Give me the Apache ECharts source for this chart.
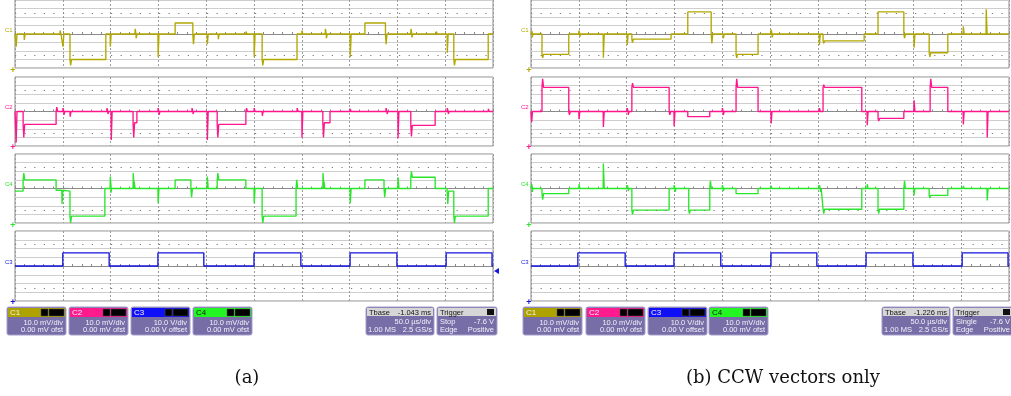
<!DOCTYPE html>
<html>
<head>
<meta charset="utf-8">
<script src="https://cdn.jsdelivr.net/npm/echarts@6/dist/echarts.min.js"></script>
<style>
html, body { margin: 0; padding: 0; background: #fff; }
#chart { width: 1011px; height: 396px; }
</style>
</head>
<body>
<div id="chart"></div>
<script>
// time in divisions (0..10), amplitude in divisions (-4..4) from trace centre
// steps: [time, new level], spikes: [time, offset from current level]

// panel (a)
const aC1Steps = [[0, 0], [1.15, -3.0], [1.9, 0], [3.35, 1.3], [3.72, 0], [5.17, -3.0], [5.9, 0], [7.32, 1.3], [7.75, 0], [9.18, -3.0], [9.9, 0]]
const aC1Spikes = [[0.02, -1.5], [0.19, -0.7], [0.94, 0.4], [1.0, -1.5], [1.16, -0.7], [1.99, -1.5], [2.51, 0.6], [2.53, -0.5], [2.99, -2.7], [3.73, -1.2], [4.02, -1.2], [4.25, -0.6], [4.83, 0.3], [5.0, -2.7], [5.18, -0.7], [6.0, 0.4], [6.49, 0.6], [6.51, -0.5], [7.01, -2.7], [7.76, -1.2], [8.28, 0.6], [8.3, -0.4], [8.81, 0.3], [9.04, -2.2], [9.19, -0.7]]

const aC2Steps = [[0, 0], [0.17, -1.5], [0.86, 0], [2.47, -1.3], [2.55, 0], [4.23, -1.5], [4.83, 0], [6.44, -1.3], [6.59, 0], [8.28, -1.6], [8.79, 0]]
const aC2Spikes = [[0.02, -3.6], [0.18, -1.5], [0.87, 0.5], [1.0, 0.4], [1.02, -0.4], [1.15, -0.6], [1.92, 0.4], [1.94, -0.3], [2.01, -3.3], [2.48, -1.7], [2.99, 0.4], [3.01, -0.4], [3.7, 0.4], [3.72, -0.3], [4.02, -3.3], [4.24, -1.5], [4.84, 0.4], [5.0, 0.4], [5.17, -0.5], [5.9, 0.4], [6.0, -3.0], [6.45, -1.7], [7.01, 0.3], [7.76, 0.4], [7.78, -0.3], [8.01, -3.1], [8.29, -1.3], [9.04, 0.4], [9.06, -0.3], [9.9, 0.3]]

const aC4Steps = [[0, -0.3], [0.17, 1.0], [0.86, -0.2], [1.0, -0.3], [1.15, -3.2], [1.88, 0], [3.35, 1.0], [3.68, 0], [4.23, 1.0], [4.83, 0], [5.17, -3.2], [5.88, 0], [7.32, 1.0], [7.72, 0], [8.28, 1.3], [8.79, 0], [9.04, -0.3], [9.18, -3.2], [9.9, 0]]
const aC4Spikes = [[0.18, 0.8], [0.98, -1.6], [1.16, -0.8], [1.99, 1.4], [2.0, -0.5], [2.47, 1.8], [2.49, 0.8], [2.99, -1.7], [3.69, -1.0], [4.02, 1.4], [4.24, 0.8], [5.0, -1.7], [5.18, -0.8], [5.89, 1.0], [6.44, 1.8], [6.46, 0.8], [7.01, -1.7], [7.73, -1.0], [8.01, 1.3], [8.29, 0.7], [9.05, -1.5], [9.19, -0.8]]

const aC3Steps = [[0, 0], [1.0, 1.5], [1.97, 0], [2.99, 1.5], [3.95, 0], [5.0, 1.5], [5.98, 0], [7.01, 1.5], [7.99, 0], [9.02, 1.5], [9.98, 0]]
const aC3Spikes = [[1.3, 0.15], [2.2, -0.1], [3.4, 0.15], [6.6, -0.1], [7.5, 0.15], [9.5, 0.15]]

// panel (b)
const bC1Steps = [[0, 0], [0.23, -2.4], [0.79, 0], [2.11, -0.6], [2.93, 0], [3.28, 2.6], [3.77, 0], [4.29, -2.4], [4.75, 0], [6.11, -0.8], [6.97, 0], [7.26, 2.6], [7.8, 0], [8.33, -2.2], [8.72, 0]]
const bC1Spikes = [[0.01, 0.4], [0.02, -0.4], [0.24, -0.4], [1.0, 0.4], [1.02, -0.3], [1.51, -2.8], [2.01, -1.3], [2.12, -0.4], [3.78, -1.1], [4.02, -0.5], [4.3, -0.4], [5.02, 0.5], [5.04, -0.4], [6.03, -1.3], [6.12, -0.3], [7.81, -0.5], [8.01, -1.6], [8.34, -0.5], [9.04, 0.9], [9.52, 2.9]]

const bC2Steps = [[0, 0], [0.23, 2.8], [0.79, 0], [2.11, 2.8], [2.89, 0], [3.28, -0.6], [3.74, 0], [4.29, 2.8], [4.75, 0], [6.11, 2.8], [6.92, 0], [7.26, -0.8], [7.8, 0], [8.35, 2.8], [8.72, 0]]
const bC2Spikes = [[0.01, -1.2], [0.24, 1.0], [0.8, -0.4], [1.0, -0.9], [1.51, -1.8], [2.01, 0.4], [2.03, -0.4], [2.12, 0.5], [2.9, -0.4], [2.99, -1.7], [4.0, 0.4], [4.02, -0.4], [4.3, 1.0], [5.02, -1.4], [6.03, 0.4], [6.12, 0.3], [7.03, -1.6], [7.27, -0.3], [8.01, 1.3], [8.36, 1.0], [9.04, -1.5], [9.54, -3.0]]

const bC4Steps = [[0, 0], [0.23, -0.6], [0.79, 0], [2.11, -2.5], [2.89, 0], [3.3, -2.5], [3.74, 0], [4.29, -0.6], [4.75, 0], [6.11, -2.4], [6.92, 0], [7.26, -2.4], [7.8, 0], [8.33, -0.8], [8.72, 0]]
const bC4Spikes = [[0.01, 0.5], [0.02, -0.4], [0.24, -0.7], [1.0, 0.5], [1.51, 2.9], [2.01, 0.4], [2.03, -0.3], [2.12, -0.5], [2.99, 0.4], [3.01, -0.4], [3.31, -0.4], [3.75, 0.9], [4.0, 0.4], [4.02, -0.3], [5.02, 0.3], [6.03, 0.4], [6.05, -0.4], [6.12, -0.5], [7.03, 0.5], [7.27, -0.5], [7.81, 0.9], [8.01, -0.8], [8.34, -0.3], [9.04, 0.3], [9.54, -1.4]]

const bC3Steps = [[0, 0], [0.98, 1.5], [1.97, 0], [2.99, 1.5], [3.97, 0], [5.02, 1.5], [5.98, 0], [7.01, 1.5], [7.99, 0], [9.02, 1.5], [9.98, 0]]
const bC3Spikes = [[1.4, 0.15], [3.3, 0.15], [5.5, 0.15], [7.4, 0.15], [9.4, 0.15]]

// readout texts
const chNames = ['C1', 'C2', 'C3', 'C4']
const chScale = ['10.0 mV/div', '10.0 mV/div', '10.0 V/div', '10.0 mV/div']
const chOffset = ['0.00 mV ofst', '0.00 mV ofst', '0.00 V offset', '0.00 mV ofst']
const tbaseValue = ['-1.043 ms', '-1.226 ms']
const tbaseDiv = '50.0 µs/div'
const tbaseRate = ['1.00 MS', '2.5 GS/s']
const trigMode = ['Stop', 'Single']
const trigLevel = '-7.6 V'
const captions = ['(a)', '(b) CCW vectors only']

const traceColors = { C1: '#b2a800', C2: '#ff168c', C3: '#1414dc', C4: '#2ae62a' }
const headerColors = { C1: '#ada200', C2: '#ff1a8e', C3: '#1010f8', C4: '#22f522' }

// grid order top to bottom
const gridOrder = ['C1', 'C2', 'C4', 'C3']
const gridTops = [0, 77, 154, 231]
const gridHeights = [68, 69, 69, 70]
const panelLefts = [15, 531]
const panelWidth = 478

const panelData = [
  { C1: [aC1Steps, aC1Spikes], C2: [aC2Steps, aC2Spikes], C3: [aC3Steps, aC3Spikes], C4: [aC4Steps, aC4Spikes] },
  { C1: [bC1Steps, bC1Spikes], C2: [bC2Steps, bC2Spikes], C3: [bC3Steps, bC3Spikes], C4: [bC4Steps, bC4Spikes] }
]

// turn steps + spikes into a polyline
function buildTrace(steps, spikes) {
  const events = []
  steps.forEach(s => events.push({ t: s[0], step: true, v: s[1] }))
  spikes.forEach(s => events.push({ t: s[0], step: false, v: s[1] }))
  events.sort((a, b) => a.t - b.t || (a.step ? -1 : 1))
  let level = steps[0][1]
  const pts = []
  events.forEach(e => {
    if (e.step) {
      pts.push([e.t, level])
      level = e.v
      pts.push([e.t, level])
    } else {
      pts.push([e.t, level], [e.t + 0.004, level + e.v], [e.t + 0.022, level])
    }
  })
  pts.push([10, level])
  return pts
}

const grids = []
const xAxes = []
const yAxes = []
const series = []

for (let p = 0; p < 2; p++) {
  gridOrder.forEach((ch, g) => {
    const idx = p * 4 + g
    grids.push({
      left: panelLefts[p], top: gridTops[g], width: panelWidth, height: gridHeights[g],
      show: true, borderColor: '#8a8a8a', borderWidth: 1, backgroundColor: '#fff'
    })
    xAxes.push({
      gridIndex: idx, type: 'value', min: 0, max: 10, interval: 1,
      axisLabel: { show: false },
      axisLine: { show: true, onZero: true, lineStyle: { color: '#8a8a8a' } },
      axisTick: { show: true, inside: true, length: 3, lineStyle: { color: '#8a8a8a' } },
      minorTick: { show: true, splitNumber: 5, length: 2, lineStyle: { color: '#8a8a8a' } },
      splitLine: { show: true, lineStyle: { color: '#9c9c9c', type: [2, 2] } }
    })
    yAxes.push({
      gridIndex: idx, type: 'value', min: -4, max: 4, interval: 1,
      axisLabel: { show: false }, axisLine: { show: false }, axisTick: { show: false },
      splitLine: { show: true, lineStyle: { color: '#cecece' } }
    })
    const d = panelData[p][ch]
    series.push({
      name: ch, type: 'line', xAxisIndex: idx, yAxisIndex: idx,
      data: buildTrace(d[0], d[1]),
      symbol: 'none', showSymbol: false, clip: true, z: 3,
      lineStyle: { color: traceColors[ch], width: 1.35 },
      markLine: {
        silent: true, symbol: 'none', label: { show: false },
        lineStyle: { color: '#7a7a7a', width: 1, type: [1.2, 8.4] },
        data: [{ yAxis: 2.5 }, { yAxis: -2.5 }]
      }
    })
  })
}

const font = '7.5px "Liberation Sans"'
const boxFill = '#776ea8'
const boxStroke = '#a39dcb'
const textFill = '#f1f1f8'

function txt(x, y, text, fill, align, f) {
  return { type: 'text', x: x, y: y, silent: true, style: { text: text, fill: fill, font: f || font, align: align || 'left', verticalAlign: 'middle' } }
}

function channelBox(x, i) {
  const ch = chNames[i], w = 59, y = 307
  return {
    type: 'group', children: [
      { type: 'rect', shape: { x: x, y: y, width: w, height: 28, r: 2 }, style: { fill: boxFill, stroke: boxStroke, lineWidth: 1 } },
      { type: 'rect', shape: { x: x + 1, y: y + 1, width: w - 2, height: 9 }, style: { fill: headerColors[ch] } },
      txt(x + 3, y + 6, ch, ch === 'C4' ? '#1a1a1a' : '#f4f4f4', 'left', '8px "Liberation Sans"'),
      { type: 'rect', shape: { x: x + w - 25, y: y + 2, width: 7, height: 7 }, style: { fill: '#000', stroke: '#555', lineWidth: 0.5 } },
      { type: 'rect', shape: { x: x + w - 17, y: y + 2, width: 15, height: 7 }, style: { fill: '#000', stroke: '#555', lineWidth: 0.5 } },
      txt(x + w - 3, y + 15.5, chScale[i], textFill, 'right'),
      txt(x + w - 3, y + 23, chOffset[i], textFill, 'right')
    ]
  }
}

function tbaseBox(x, p) {
  const w = 68, y = 307
  return {
    type: 'group', children: [
      { type: 'rect', shape: { x: x, y: y, width: w, height: 28, r: 2 }, style: { fill: boxFill, stroke: boxStroke, lineWidth: 1 } },
      { type: 'rect', shape: { x: x + 1, y: y + 1, width: w - 2, height: 8 }, style: { fill: '#d6d6d6' } },
      txt(x + 3, y + 5.5, 'Tbase', '#111'),
      txt(x + w - 3, y + 5.5, tbaseValue[p], '#111', 'right'),
      txt(x + w - 3, y + 15, tbaseDiv, textFill, 'right'),
      txt(x + 2, y + 23, tbaseRate[0], textFill),
      txt(x + w - 2, y + 23, tbaseRate[1], textFill, 'right')
    ]
  }
}

function triggerBox(x, p) {
  const w = 60, y = 307
  return {
    type: 'group', children: [
      { type: 'rect', shape: { x: x, y: y, width: w, height: 28, r: 2 }, style: { fill: boxFill, stroke: boxStroke, lineWidth: 1 } },
      { type: 'rect', shape: { x: x + 1, y: y + 1, width: w - 2, height: 8 }, style: { fill: '#d6d6d6' } },
      txt(x + 3, y + 5.5, 'Trigger', '#111'),
      { type: 'rect', shape: { x: x + w - 10, y: y + 2, width: 7, height: 6 }, style: { fill: '#111' } },
      txt(x + 3, y + 15, trigMode[p], textFill),
      txt(x + w - 3, y + 15, trigLevel, textFill, 'right'),
      txt(x + 3, y + 23, 'Edge', textFill),
      txt(x + w - 3, y + 23, 'Positive', textFill, 'right')
    ]
  }
}

const graphics = []
const labelYs = [30, 107, 184, 262]
const groundYs = [71, 148, 226, 303]
const boxLefts = [[7, 69, 131, 193], [523, 586, 648, 709]]
const tbaseLefts = [366, 882]
const trigLefts = [437, 953]

for (let p = 0; p < 2; p++) {
  const lx = panelLefts[p] - 10
  gridOrder.forEach((ch, g) => {
    graphics.push(txt(lx, labelYs[g], ch, traceColors[ch], 'left', '6px "Liberation Sans"'))
    graphics.push(txt(panelLefts[p] - 2, groundYs[g], '+', traceColors[ch], 'center', 'bold 9px "Liberation Sans"'))
  })
  chNames.forEach((ch, i) => graphics.push(channelBox(boxLefts[p][i], i)))
  graphics.push(tbaseBox(tbaseLefts[p], p))
  graphics.push(triggerBox(trigLefts[p], p))
}
// C3 trigger level marker on panel (a)
graphics.push({ type: 'polygon', shape: { points: [[494, 271], [499, 268], [499, 274]] }, style: { fill: traceColors.C3 } })
graphics.push(txt(247, 378, captions[0], '#111', 'center', '18px "DejaVu Serif"'))
graphics.push(txt(783, 378, captions[1], '#111', 'center', '18px "DejaVu Serif"'))

const chart = echarts.init(document.getElementById('chart'), null, { renderer: 'canvas' })
chart.setOption({
  animation: false,
  backgroundColor: '#fff',
  grid: grids,
  xAxis: xAxes,
  yAxis: yAxes,
  series: series,
  graphic: graphics
})
</script>
</body>
</html>
